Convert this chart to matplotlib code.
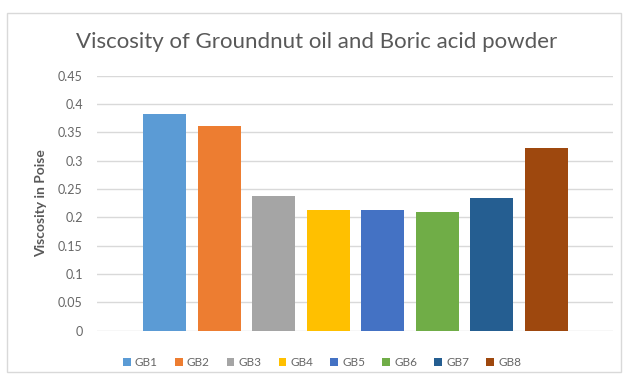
import matplotlib
matplotlib.use("Agg")
import matplotlib.pyplot as plt
from matplotlib.patches import Rectangle

categories = ["GB1", "GB2", "GB3", "GB4", "GB5", "GB6", "GB7", "GB8"]
viscosity = [0.382, 0.361, 0.238, 0.213, 0.213, 0.210, 0.234, 0.322]
colors = ["#5B9BD5", "#ED7D31", "#A5A5A5", "#FFC000",
          "#4472C4", "#70AD47", "#255E91", "#9E480E"]
yticks = [0, 0.05, 0.1, 0.15, 0.2, 0.25, 0.3, 0.35, 0.4, 0.45]
ytick_labels = ["0", "0.05", "0.1", "0.15", "0.2", "0.25", "0.3", "0.35", "0.4", "0.45"]

W, H = 627, 385
fig = plt.figure(figsize=(W / 100, H / 100), dpi=100)
fig.patch.set_facecolor("white")

# chart frame
fig.patches.append(Rectangle((7 / W, 1 - 372 / H), (621 - 7) / W, (372 - 13) / H,
                             transform=fig.transFigure, fill=False,
                             edgecolor="#d9d9d9", linewidth=1.0))

left, right = 96.7 / W, 613 / W
bottom, top = 1 - 330.7 / H, 1 - 75.7 / H
ax = fig.add_axes([left, bottom, right - left, top - bottom])

x = list(range(len(categories)))
bars = ax.bar(x, viscosity, width=0.79, color=colors, zorder=3)

ax.set_xlim(-1.248, 8.226)
ax.set_ylim(0, 0.45)
ax.set_yticks(yticks)
ax.set_yticklabels(ytick_labels, fontsize=9, color="#666666", family="Lato")
ax.tick_params(axis="y", length=0, pad=10)
ax.set_xticks([])
ax.grid(axis="y", color="#d9d9d9", linewidth=1.0, zorder=0)
for s in ax.spines.values():
    s.set_visible(False)

ax.set_ylabel("Viscosity in Poise", fontsize=10, fontweight="bold",
              color="#595959", family="Lato")
ax.yaxis.set_label_coords(-0.097, 0.5)

fig.text(317 / W, 1 - 42 / H, "Viscosity of Groundnut oil and Boric acid powder",
         ha="center", va="center", fontsize=16, color="#595959", family="Lato")

fig.legend(handles=list(bars), labels=categories, loc="center",
           bbox_to_anchor=(322 / W, 1 - 363 / H), ncol=8, frameon=False,
           handlelength=0.65, handleheight=0.65, handletextpad=0.35,
           columnspacing=1.45, prop={"family": "Lato", "size": 8.5},
           labelcolor="#666666")

fig.savefig("out.png", dpi=100, facecolor="white")
